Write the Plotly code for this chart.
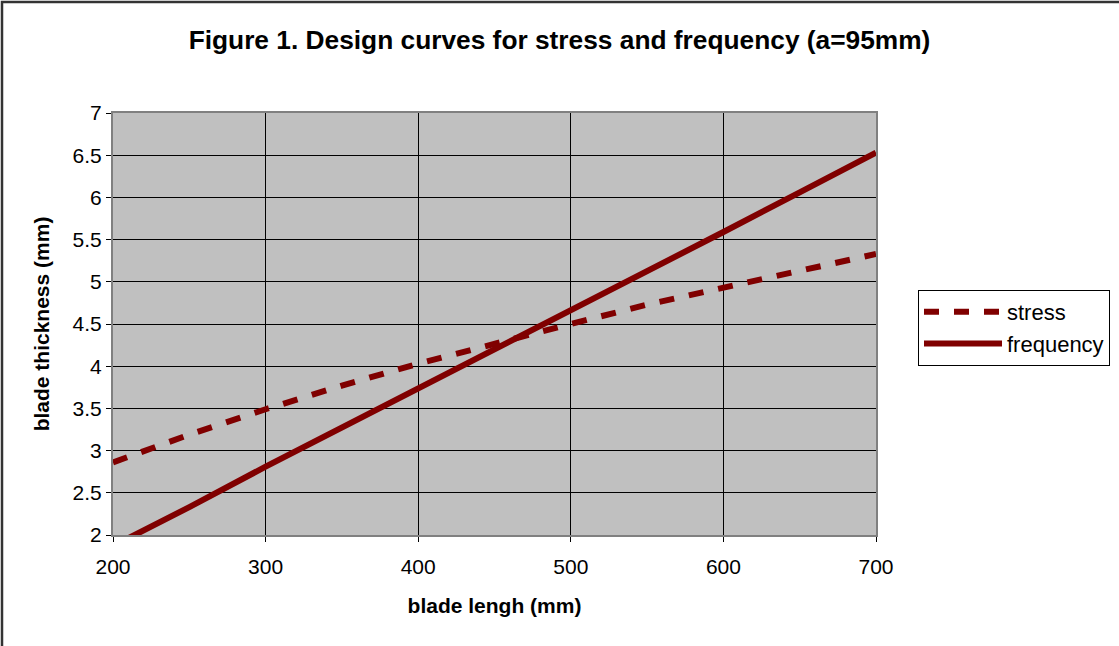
import plotly.graph_objects as go

length_mm = [200, 250, 300, 350, 400, 450, 500, 550, 600, 650, 700]
stress_t = [2.86, 3.19, 3.49, 3.77, 4.03, 4.27, 4.50, 4.73, 4.93, 5.14, 5.33]
freq_t = [1.87, 2.33, 2.81, 3.27, 3.73, 4.19, 4.66, 5.12, 5.59, 6.06, 6.53]
x_ticks = [200, 300, 400, 500, 600, 700]
y_ticks = [2, 2.5, 3, 3.5, 4, 4.5, 5, 5.5, 6, 6.5, 7]

W, H = 1119, 646
L, R, T, B = 113, 243, 113, 111
pw, ph = W - L - R, H - T - B

fig = go.Figure()
fig.add_trace(go.Scatter(x=length_mm, y=stress_t, name="stress", mode="lines",
                         line=dict(color="#800000", width=6, dash="15px,15px")))
fig.add_trace(go.Scatter(x=length_mm, y=freq_t, name="frequency", mode="lines",
                         line=dict(color="#800000", width=6)))

font = "Liberation Sans, Arial, sans-serif"
fig.update_layout(
    width=W, height=H,
    margin=dict(l=L, r=R, t=T, b=B, autoexpand=False),
    paper_bgcolor="white", plot_bgcolor="#c0c0c0",
    font=dict(family=font, size=21, color="black"),
    title=dict(text="<b>Figure 1. Design curves for stress and frequency (a=95mm)</b>",
               x=0.5, xanchor="center", y=1 - 40 / H, yanchor="middle",
               font=dict(size=26.3, family=font)),
    xaxis=dict(range=[200, 700], tickvals=x_ticks, showgrid=True, gridcolor="black",
               gridwidth=1, showline=True, linecolor="#808080", linewidth=2, mirror=True,
               ticks="outside", ticklen=5, tickcolor="black", zeroline=False,
               tickfont=dict(size=21), ticklabelstandoff=7,
               title=dict(text="<b>blade lengh (mm)</b>", font=dict(size=21), standoff=21)),
    yaxis=dict(range=[2, 7], tickvals=y_ticks, showgrid=True, gridcolor="black",
               gridwidth=1, showline=True, linecolor="#808080", linewidth=2, mirror=True,
               ticks="outside", ticklen=5, tickcolor="black", zeroline=False,
               tickfont=dict(size=21),
               title=dict(text="<b>blade thickness (mm)</b>", font=dict(size=21), standoff=17)),
    legend=dict(x=(918 - L) / pw, y=(H - B - 290) / ph, xanchor="left", yanchor="top",
                bordercolor="black", borderwidth=1, bgcolor="white",
                font=dict(size=22), itemwidth=78),
    showlegend=True,
)
fig.add_shape(type="rect", xref="paper", yref="paper",
              x0=(2 - L) / pw, x1=(1125 - L) / pw,
              y0=(H - B - 660) / ph, y1=(H - B - 2) / ph,
              line=dict(color="#333333", width=2.5), layer="below")
fig.write_html("out.html", config={"displayModeBar": False},
               post_script="document.body.style.margin='0';")
